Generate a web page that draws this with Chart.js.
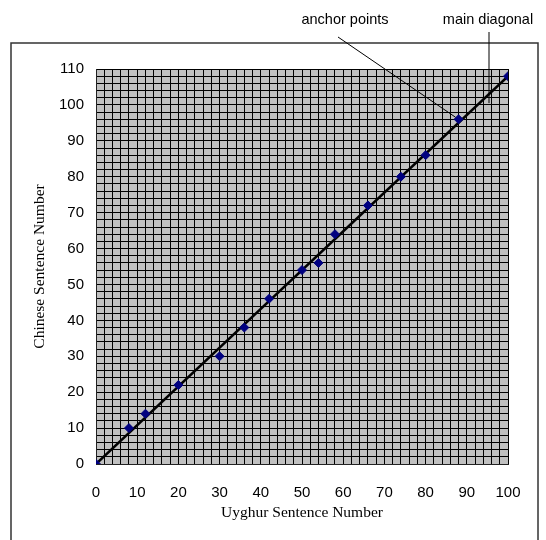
<!DOCTYPE html>
<html>
<head>
<meta charset="utf-8">
<script src="https://cdn.jsdelivr.net/npm/chart.js@4"></script>
<style>
  html, body { margin: 0; padding: 0; background: #fff; }
  #wrap { width: 546px; height: 540px; }
</style>
</head>
<body>
<div id="wrap"><canvas id="chart" width="546" height="540"></canvas></div>
<script>
// Data
const uyghur  = [0, 8, 12, 20, 30, 36, 42, 50, 54, 58, 66, 74, 80, 88, 100];
const chinese = [0, 10, 14, 22, 30, 38, 46, 54, 56, 64, 72, 80, 86, 96, 108];
const diagX = [0, 100];
const diagY = [0, 108];
const xTicks = [0, 10, 20, 30, 40, 50, 60, 70, 80, 90, 100];
const yTicks = [0, 10, 20, 30, 40, 50, 60, 70, 80, 90, 100, 110];

const anchorData = uyghur.map((x, i) => ({ x: x, y: chinese[i] }));
const diagData = diagX.map((x, i) => ({ x: x, y: diagY[i] }));

// grey plot background + outer frame + callouts
const decor = {
  id: 'decor',
  beforeDraw(chart) {
    const { ctx, chartArea: a } = chart;
    ctx.save();
    ctx.fillStyle = '#c0c0c0';
    ctx.fillRect(a.left, a.top, a.right - a.left, a.bottom - a.top);
    ctx.strokeStyle = '#333';
    ctx.lineWidth = 1.5;
    ctx.strokeRect(11, 43, 527, 520);
    ctx.restore();
  },
  afterDraw(chart) {
    const { ctx } = chart;
    const xs = chart.scales.x, ys = chart.scales.y;
    ctx.save();
    ctx.fillStyle = '#000';
    ctx.font = '14.5px "Liberation Sans", Arial, sans-serif';
    ctx.textAlign = 'center';
    ctx.textBaseline = 'middle';
    ctx.fillText('anchor points', 345, 20);
    ctx.fillText('main diagonal', 488, 20);
    ctx.strokeStyle = '#000';
    ctx.lineWidth = 1;
    // pointer to anchor point (88,96)
    ctx.beginPath();
    ctx.moveTo(338, 37);
    ctx.lineTo(xs.getPixelForValue(88) - 3, ys.getPixelForValue(96) - 2);
    ctx.stroke();
    // pointer to the diagonal
    ctx.beginPath();
    ctx.moveTo(489, 32);
    ctx.lineTo(489, ys.getPixelForValue(100.5));
    ctx.stroke();
    ctx.restore();
  }
};

new Chart(document.getElementById('chart'), {
  type: 'scatter',
  data: {
    datasets: [
      {
        label: 'main diagonal',
        data: diagData,
        showLine: true,
        borderColor: '#000',
        borderWidth: 2.5,
        pointRadius: 0,
        order: 2
      },
      {
        label: 'anchor points',
        data: anchorData,
        pointStyle: 'rectRot',
        pointRadius: 4.5,
        backgroundColor: '#000080',
        borderColor: '#000080',
        borderWidth: 1,
        order: 1
      }
    ]
  },
  options: {
    responsive: false,
    animation: false,
    layout: {
      padding: { left: 20, right: 38, top: 69, bottom: 10 }
    },
    plugins: {
      legend: { display: false },
      tooltip: { enabled: false }
    },
    scales: {
      x: {
        type: 'linear',
        min: 0,
        max: 100,
        afterFit(scale) { scale.height = 66; },
        ticks: {
          stepSize: 2,
          autoSkip: false,
          maxRotation: 0,
          padding: 20,
          color: '#000',
          font: { family: '"Liberation Sans", Arial, sans-serif', size: 15 },
          callback: v => xTicks.includes(v) ? String(v) : ''
        },
        grid: { color: '#000', lineWidth: 1, drawTicks: false },
        border: { color: '#222', width: 1 },
        title: {
          display: true,
          text: 'Uyghur Sentence Number',
          color: '#000',
          font: { family: '"Liberation Serif", "Times New Roman", serif', size: 15.5 },
          padding: { top: 0, bottom: 8 }
        }
      },
      y: {
        type: 'linear',
        min: 0,
        max: 110,
        afterFit(scale) { scale.width = 76; },
        ticks: {
          stepSize: 2,
          autoSkip: false,
          padding: 12,
          color: '#000',
          font: { family: '"Liberation Sans", Arial, sans-serif', size: 15 },
          callback: v => yTicks.includes(v) ? String(v) : ''
        },
        grid: { color: '#000', lineWidth: 1, drawTicks: false },
        border: { color: '#222', width: 1 },
        title: {
          display: true,
          text: 'Chinese Sentence Number',
          color: '#000',
          font: { family: '"Liberation Serif", "Times New Roman", serif', size: 15.5 },
          padding: { top: 11, bottom: 0 }
        }
      }
    }
  },
  plugins: [decor]
});
</script>
</body>
</html>
